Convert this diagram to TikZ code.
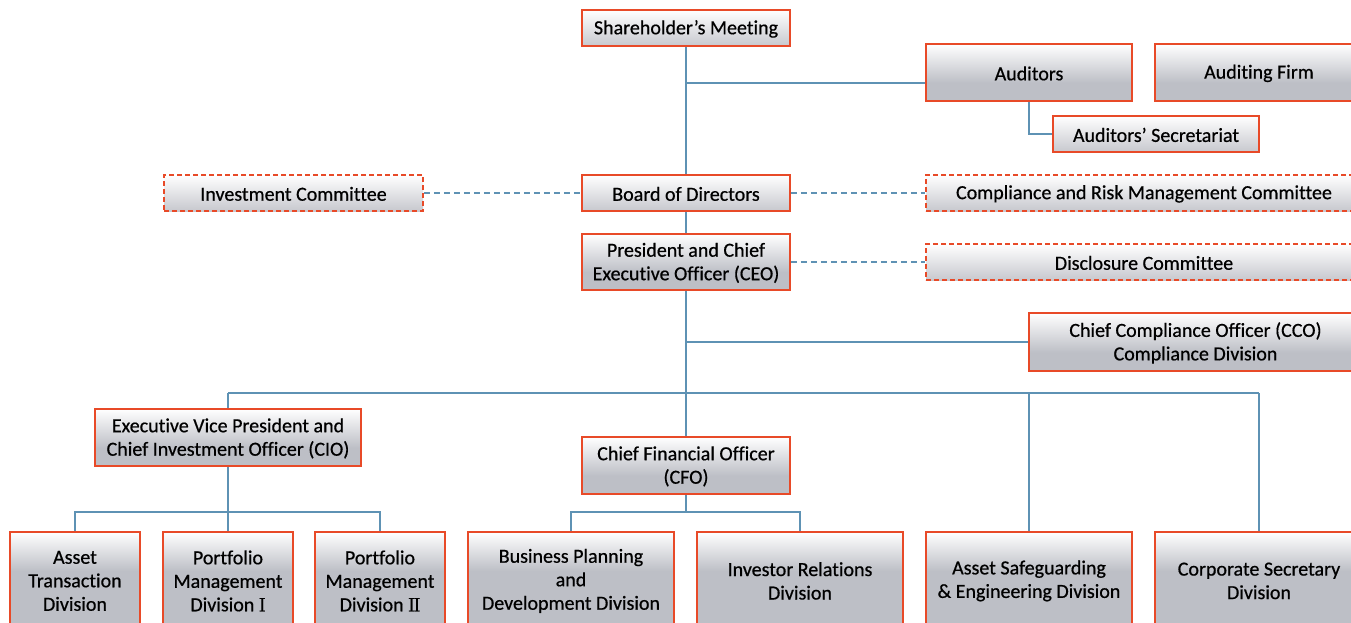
\documentclass[tikz,border=0pt]{standalone}
\usepackage{fontspec}
\setmainfont{Carlito}[Ligatures={NoCommon},FakeBold=0.6]
\newfontfamily\romfont{Liberation Serif}[FakeBold=0.4]
\definecolor{boxborder}{RGB}{232,74,40}
\definecolor{linkblue}{RGB}{94,146,180}
\definecolor{boxgray}{RGB}{189,191,198}
\definecolor{shortgray}{RGB}{199,200,206}
\pgfdeclareverticalshading{shshort}{100bp}{color(0bp)=(shortgray); color(25bp)=(shortgray); color(75bp)=(white); color(100bp)=(white)}
\pgfdeclareverticalshading{shmid}{100bp}{color(0bp)=(boxgray); color(41bp)=(boxgray); color(75bp)=(white); color(100bp)=(white)}
\pgfdeclareverticalshading{shtall}{100bp}{color(0bp)=(boxgray); color(54.7bp)=(boxgray); color(75bp)=(white); color(100bp)=(white)}
\tikzset{
  orgbox/.style={draw=boxborder, line width=1.6pt, inner sep=0pt},
  shortbox/.style={orgbox, shading=shshort},
  midbox/.style={orgbox, shading=shmid},
  tallbox/.style={orgbox, shading=shtall},
  comshort/.style={shortbox, dash pattern=on 5pt off 3pt},
  boxtext/.style={align=center, inner sep=0pt, font=\fontsize{20}{23.5}\selectfont, text=black},
  link/.style={draw=linkblue, line width=2pt},
  dlink/.style={draw=linkblue, line width=2pt, dash pattern=on 6pt off 4pt},
}
\newcommand{\bx}[7]{% name, left, top, right, bottom, style, text
  \node[#6, minimum width=#4pt-#2pt, minimum height=#5pt-#3pt] (#1) at ({(#2+#4)/2},{(#3+#5)/2}) {};
  \node[boxtext] (#1t) at ([yshift=-0.9pt]#1.center) {#7};}
\begin{document}
\begin{tikzpicture}[x=1pt,y=-1pt]
\useasboundingbox (0,0) rectangle (1351,622);
\clip (0,0) rectangle (1351,622);
\fill[white] (0,0) rectangle (1351,622);

\bx{sh}{582}{10}{790}{46}{shortbox}{Shareholder’s Meeting}
\bx{aud}{926}{44}{1132}{101}{midbox}{Auditors}
\bx{firm}{1155}{44}{1363}{101}{midbox}{Auditing Firm}
\bx{sec}{1053}{116}{1259}{152}{shortbox}{Auditors’ Secretariat}
\bx{inv}{164}{175}{423}{211}{comshort}{Investment Committee}
\bx{bod}{582}{175}{790}{211}{shortbox}{Board of Directors}
\bx{crm}{926}{175}{1362}{211}{comshort}{Compliance and Risk Management Committee}
\bx{ceo}{582}{234}{790}{290}{midbox}{President and Chief\\Executive Officer (CEO)}
\bx{disc}{926}{244}{1362}{280}{comshort}{Disclosure Committee}
\bx{cco}{1029}{313}{1362}{371}{midbox}{Chief Compliance Officer (CCO)\\Compliance Division}
\bx{cio}{95}{409}{361}{466}{midbox}{Executive Vice President and\\Chief Investment Officer (CIO)}
\bx{cfo}{582}{437}{790}{494}{midbox}{Chief Financial Officer\\(CFO)}
\bx{atd}{10}{532}{140}{628}{tallbox}{Asset\\Transaction\\Division}
\bx{pm1}{163}{532}{293}{628}{tallbox}{Portfolio\\Management\\Division {\romfont I}}
\bx{pm2}{315}{532}{445}{628}{tallbox}{Portfolio\\Management\\Division {\romfont I\kern-1.2ptI}}
\bx{bpd}{468}{532}{674}{628}{tallbox}{Business Planning\\and\\Development Division}
\bx{ird}{697}{532}{903}{628}{tallbox}{Investor Relations\\Division}
\bx{ase}{926}{532}{1132}{628}{tallbox}{Asset Safeguarding\\\& Engineering Division}
\bx{csd}{1155}{532}{1363}{628}{tallbox}{Corporate Secretary\\Division}

% main spine
\draw[link] (sh.south) -- (bod.north);
\coordinate (jaud) at (sh.south |- 0,83);
\draw[link] (jaud) -- (jaud -| aud.west);
\coordinate (jsec) at (aud.south |- sec.west);
\draw[link] (aud.south) -- (jsec) -- (sec.west);
\draw[link] (bod.south) -- (ceo.north);
\draw[dlink] (inv.east) -- (bod.west);
\draw[dlink] (bod.east) -- (crm.west);
\draw[dlink] (ceo.east) -- (disc.west);
\draw[link] (ceo.south) -- (cfo.north);
\draw[link] (ceo.south |- cco.west) -- (cco.west);

% main bus
\coordinate (busL) at (cio.north |- 0,393);
\coordinate (busR) at (csd.north |- 0,393);
\draw[link] (busL) -- (busR);
\draw[link] (busL) -- (cio.north);
\draw[link] (busR) -- (csd.north);
\draw[link] (ase.north |- busL) -- (ase.north);

% CIO bus
\coordinate (cioJ) at (cio.south |- 0,512);
\draw[link] (cio.south) -- (cioJ);
\draw[link] (atd.north) -- (atd.north |- cioJ) -- (pm2.north |- cioJ) -- (pm2.north);
\draw[link] (cioJ) -- (pm1.north);

% CFO bus
\coordinate (cfoJ) at (cfo.south |- 0,512);
\draw[link] (cfo.south) -- (cfoJ);
\draw[link] (bpd.north) -- (bpd.north |- cfoJ) -- (ird.north |- cfoJ) -- (ird.north);
\end{tikzpicture}
\end{document}
